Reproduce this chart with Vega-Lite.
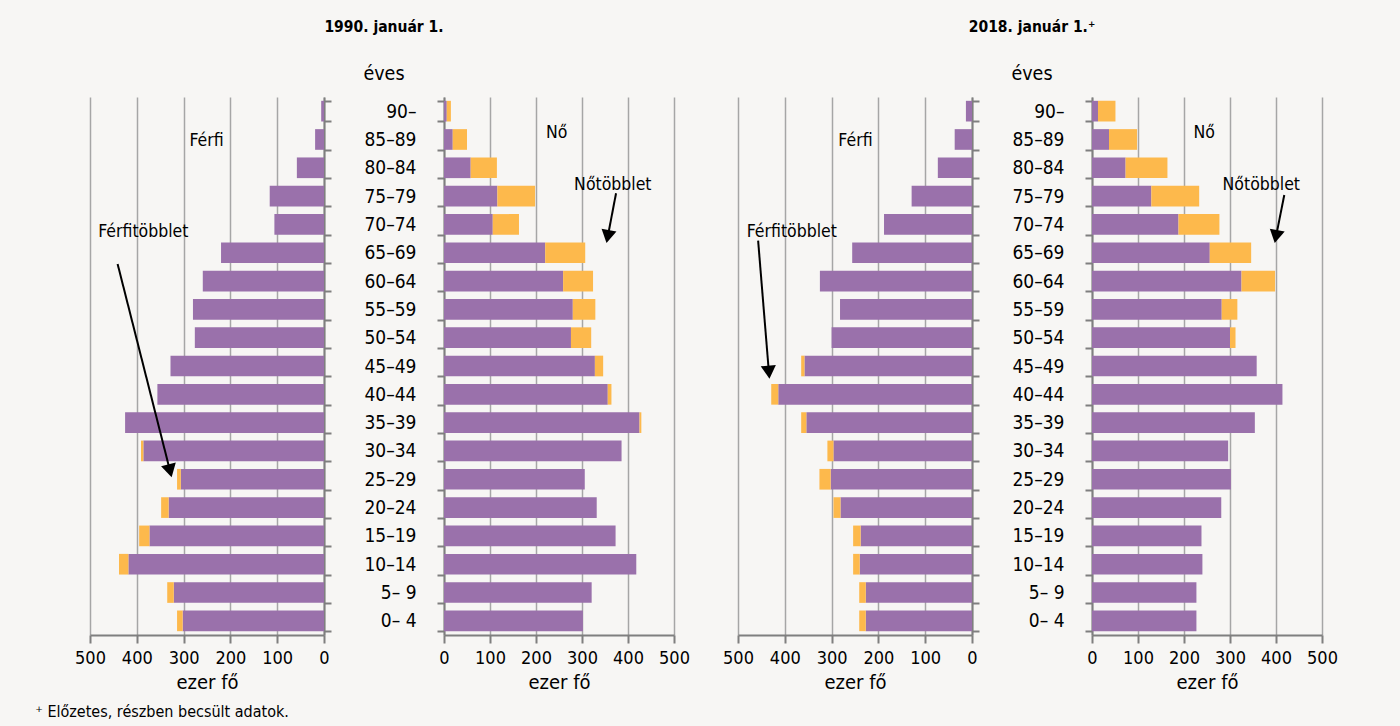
{
  "$schema": "https://vega.github.io/schema/vega-lite/v6.json",
  "background": "#f7f6f4",
  "padding": {"left": 35, "top": 19, "right": 65, "bottom": 6},
  "config": {
    "view": {"stroke": null},
    "font": "Liberation Sans Narrow, Arial Narrow, DejaVu Sans Condensed, sans-serif",
    "axis": {"domainColor": "#7f7f7f", "domainWidth": 2, "tickColor": "#7f7f7f", "tickWidth": 2, "labelColor": "#000000", "titleColor": "#000000", "labelFontSize": 18, "titleFontSize": 20, "titleFontWeight": "normal"},
    "axisX": {"grid": true, "gridColor": "#a6a6a6", "gridWidth": 1.5, "tickSize": 8, "labelPadding": 6, "labelFlush": false, "labelOverlap": false, "titlePadding": 5},
    "axisY": {"grid": false, "tickBand": "extent", "tickSize": 7, "labelPadding": 21, "labelFontSize": 19}
  },
  "datasets": {
    "pop": [
      {"ev": "1990", "nem": "Férfi", "kor": "90–  ", "kozos": 6, "osszes": 6},
      {"ev": "1990", "nem": "Férfi", "kor": "85–89", "kozos": 19, "osszes": 19},
      {"ev": "1990", "nem": "Férfi", "kor": "80–84", "kozos": 58, "osszes": 58},
      {"ev": "1990", "nem": "Férfi", "kor": "75–79", "kozos": 116, "osszes": 116},
      {"ev": "1990", "nem": "Férfi", "kor": "70–74", "kozos": 106, "osszes": 106},
      {"ev": "1990", "nem": "Férfi", "kor": "65–69", "kozos": 220, "osszes": 220},
      {"ev": "1990", "nem": "Férfi", "kor": "60–64", "kozos": 259, "osszes": 259},
      {"ev": "1990", "nem": "Férfi", "kor": "55–59", "kozos": 280, "osszes": 280},
      {"ev": "1990", "nem": "Férfi", "kor": "50–54", "kozos": 276, "osszes": 276},
      {"ev": "1990", "nem": "Férfi", "kor": "45–49", "kozos": 328, "osszes": 328},
      {"ev": "1990", "nem": "Férfi", "kor": "40–44", "kozos": 356, "osszes": 356},
      {"ev": "1990", "nem": "Férfi", "kor": "35–39", "kozos": 425, "osszes": 425},
      {"ev": "1990", "nem": "Férfi", "kor": "30–34", "kozos": 386, "osszes": 391},
      {"ev": "1990", "nem": "Férfi", "kor": "25–29", "kozos": 306, "osszes": 314},
      {"ev": "1990", "nem": "Férfi", "kor": "20–24", "kozos": 332, "osszes": 348},
      {"ev": "1990", "nem": "Férfi", "kor": "15–19", "kozos": 373, "osszes": 395},
      {"ev": "1990", "nem": "Férfi", "kor": "10–14", "kozos": 418, "osszes": 438},
      {"ev": "1990", "nem": "Férfi", "kor": "5– 9", "kozos": 321, "osszes": 335},
      {"ev": "1990", "nem": "Férfi", "kor": "0– 4", "kozos": 302, "osszes": 314},
      {"ev": "1990", "nem": "Nő", "kor": "90–  ", "kozos": 6, "osszes": 15},
      {"ev": "1990", "nem": "Nő", "kor": "85–89", "kozos": 19, "osszes": 50},
      {"ev": "1990", "nem": "Nő", "kor": "80–84", "kozos": 58, "osszes": 115},
      {"ev": "1990", "nem": "Nő", "kor": "75–79", "kozos": 116, "osszes": 198},
      {"ev": "1990", "nem": "Nő", "kor": "70–74", "kozos": 106, "osszes": 163},
      {"ev": "1990", "nem": "Nő", "kor": "65–69", "kozos": 220, "osszes": 307},
      {"ev": "1990", "nem": "Nő", "kor": "60–64", "kozos": 259, "osszes": 324},
      {"ev": "1990", "nem": "Nő", "kor": "55–59", "kozos": 280, "osszes": 329},
      {"ev": "1990", "nem": "Nő", "kor": "50–54", "kozos": 276, "osszes": 320},
      {"ev": "1990", "nem": "Nő", "kor": "45–49", "kozos": 328, "osszes": 346},
      {"ev": "1990", "nem": "Nő", "kor": "40–44", "kozos": 356, "osszes": 364},
      {"ev": "1990", "nem": "Nő", "kor": "35–39", "kozos": 425, "osszes": 429},
      {"ev": "1990", "nem": "Nő", "kor": "30–34", "kozos": 386, "osszes": 386},
      {"ev": "1990", "nem": "Nő", "kor": "25–29", "kozos": 306, "osszes": 306},
      {"ev": "1990", "nem": "Nő", "kor": "20–24", "kozos": 332, "osszes": 332},
      {"ev": "1990", "nem": "Nő", "kor": "15–19", "kozos": 373, "osszes": 373},
      {"ev": "1990", "nem": "Nő", "kor": "10–14", "kozos": 418, "osszes": 418},
      {"ev": "1990", "nem": "Nő", "kor": "5– 9", "kozos": 321, "osszes": 321},
      {"ev": "1990", "nem": "Nő", "kor": "0– 4", "kozos": 302, "osszes": 302},
      {"ev": "2018", "nem": "Férfi", "kor": "90–  ", "kozos": 13, "osszes": 13},
      {"ev": "2018", "nem": "Férfi", "kor": "85–89", "kozos": 37, "osszes": 37},
      {"ev": "2018", "nem": "Férfi", "kor": "80–84", "kozos": 73, "osszes": 73},
      {"ev": "2018", "nem": "Férfi", "kor": "75–79", "kozos": 129, "osszes": 129},
      {"ev": "2018", "nem": "Férfi", "kor": "70–74", "kozos": 188, "osszes": 188},
      {"ev": "2018", "nem": "Férfi", "kor": "65–69", "kozos": 256, "osszes": 256},
      {"ev": "2018", "nem": "Férfi", "kor": "60–64", "kozos": 325, "osszes": 325},
      {"ev": "2018", "nem": "Férfi", "kor": "55–59", "kozos": 282, "osszes": 282},
      {"ev": "2018", "nem": "Férfi", "kor": "50–54", "kozos": 300, "osszes": 300},
      {"ev": "2018", "nem": "Férfi", "kor": "45–49", "kozos": 358, "osszes": 365},
      {"ev": "2018", "nem": "Férfi", "kor": "40–44", "kozos": 414, "osszes": 429},
      {"ev": "2018", "nem": "Férfi", "kor": "35–39", "kozos": 354, "osszes": 365},
      {"ev": "2018", "nem": "Férfi", "kor": "30–34", "kozos": 296, "osszes": 309},
      {"ev": "2018", "nem": "Férfi", "kor": "25–29", "kozos": 302, "osszes": 326},
      {"ev": "2018", "nem": "Férfi", "kor": "20–24", "kozos": 281, "osszes": 296},
      {"ev": "2018", "nem": "Férfi", "kor": "15–19", "kozos": 238, "osszes": 254},
      {"ev": "2018", "nem": "Férfi", "kor": "10–14", "kozos": 240, "osszes": 254},
      {"ev": "2018", "nem": "Férfi", "kor": "5– 9", "kozos": 227, "osszes": 241},
      {"ev": "2018", "nem": "Férfi", "kor": "0– 4", "kozos": 227, "osszes": 241},
      {"ev": "2018", "nem": "Nő", "kor": "90–  ", "kozos": 13, "osszes": 51},
      {"ev": "2018", "nem": "Nő", "kor": "85–89", "kozos": 37, "osszes": 98},
      {"ev": "2018", "nem": "Nő", "kor": "80–84", "kozos": 73, "osszes": 164},
      {"ev": "2018", "nem": "Nő", "kor": "75–79", "kozos": 129, "osszes": 233},
      {"ev": "2018", "nem": "Nő", "kor": "70–74", "kozos": 188, "osszes": 277},
      {"ev": "2018", "nem": "Nő", "kor": "65–69", "kozos": 256, "osszes": 346},
      {"ev": "2018", "nem": "Nő", "kor": "60–64", "kozos": 325, "osszes": 398},
      {"ev": "2018", "nem": "Nő", "kor": "55–59", "kozos": 282, "osszes": 316},
      {"ev": "2018", "nem": "Nő", "kor": "50–54", "kozos": 300, "osszes": 312},
      {"ev": "2018", "nem": "Nő", "kor": "45–49", "kozos": 358, "osszes": 358},
      {"ev": "2018", "nem": "Nő", "kor": "40–44", "kozos": 414, "osszes": 414},
      {"ev": "2018", "nem": "Nő", "kor": "35–39", "kozos": 354, "osszes": 354},
      {"ev": "2018", "nem": "Nő", "kor": "30–34", "kozos": 296, "osszes": 296},
      {"ev": "2018", "nem": "Nő", "kor": "25–29", "kozos": 302, "osszes": 302},
      {"ev": "2018", "nem": "Nő", "kor": "20–24", "kozos": 281, "osszes": 281},
      {"ev": "2018", "nem": "Nő", "kor": "15–19", "kozos": 238, "osszes": 238},
      {"ev": "2018", "nem": "Nő", "kor": "10–14", "kozos": 240, "osszes": 240},
      {"ev": "2018", "nem": "Nő", "kor": "5– 9", "kozos": 227, "osszes": 227},
      {"ev": "2018", "nem": "Nő", "kor": "0– 4", "kozos": 227, "osszes": 227}
    ],
    "ann": [
      {"panel": "m1", "tipus": "szoveg", "x": 251, "sor": 1.73, "szoveg": "Férfi"},
      {"panel": "m1", "tipus": "szoveg", "x": 386, "sor": 4.95, "szoveg": "Férfitöbblet"},
      {"panel": "m1", "tipus": "nyil", "x": 441, "sor": 5.9, "x2": 329, "sor2": 13.2, "szog": 346},
      {"panel": "m1", "tipus": "labjegyzet", "x": 617, "sor": 21.9, "szoveg": "⁺ Előzetes, részben becsült adatok."},
      {"panel": "f1", "tipus": "szoveg", "x": 245, "sor": 1.45, "szoveg": "Nő"},
      {"panel": "f1", "tipus": "szoveg", "x": 367, "sor": 3.29, "szoveg": "Nőtöbblet"},
      {"panel": "f1", "tipus": "nyil", "x": 374, "sor": 3.4, "x2": 356, "sor2": 4.93, "szog": 11},
      {"panel": "m2", "tipus": "szoveg", "x": 249, "sor": 1.73, "szoveg": "Férfi"},
      {"panel": "m2", "tipus": "szoveg", "x": 385, "sor": 4.95, "szoveg": "Férfitöbblet"},
      {"panel": "m2", "tipus": "nyil", "x": 457, "sor": 5.07, "x2": 434, "sor2": 9.72, "szog": 355},
      {"panel": "f2", "tipus": "szoveg", "x": 244, "sor": 1.45, "szoveg": "Nő"},
      {"panel": "f2", "tipus": "szoveg", "x": 368, "sor": 3.29, "szoveg": "Nőtöbblet"},
      {"panel": "f2", "tipus": "nyil", "x": 418, "sor": 3.46, "x2": 400, "sor2": 4.93, "szog": 11},
      {"panel": "t1", "tipus": "cim", "sor": -2.3, "szoveg": "1990. január 1."},
      {"panel": "t1", "tipus": "eves", "sor": -0.6, "szoveg": "éves"},
      {"panel": "t2", "tipus": "cim", "sor": -2.3, "szoveg": "2018. január 1.⁺"},
      {"panel": "t2", "tipus": "eves", "sor": -0.6, "szoveg": "éves"}
    ]
  },
  "spacing": 30,
  "bounds": "flush",
  "hconcat": [
    {
      "width": 234, "height": 538,
      "layer": [
        {
          "data": {"name": "pop"},
          "transform": [{"filter": "datum.ev === '1990' && datum.nem === 'Férfi'"}],
          "mark": {"type": "bar", "color": "#9a71ab"},
          "encoding": {
            "y": {"field": "kor", "type": "nominal", "sort": ["90–  ", "85–89", "80–84", "75–79", "70–74", "65–69", "60–64", "55–59", "50–54", "45–49", "40–44", "35–39", "30–34", "25–29", "20–24", "15–19", "10–14", "5– 9", "0– 4"], "scale": {"paddingInner": 0.27, "paddingOuter": 0.135}, "axis": {"orient": "right", "labels": false, "title": null}},
            "x": {"field": "kozos", "type": "quantitative", "scale": {"domain": [0, 500], "reverse": true, "nice": false}, "axis": {"values": [0, 100, 200, 300, 400, 500], "title": "ezer fő"}}
          }
        },
        {
          "data": {"name": "pop"},
          "transform": [{"filter": "datum.ev === '1990' && datum.nem === 'Férfi'"}],
          "mark": {"type": "bar", "color": "#fdb94c"},
          "encoding": {
            "y": {"field": "kor", "type": "nominal", "sort": ["90–  ", "85–89", "80–84", "75–79", "70–74", "65–69", "60–64", "55–59", "50–54", "45–49", "40–44", "35–39", "30–34", "25–29", "20–24", "15–19", "10–14", "5– 9", "0– 4"], "scale": {"paddingInner": 0.27, "paddingOuter": 0.135}, "axis": null},
            "x": {"field": "kozos", "type": "quantitative", "scale": {"domain": [0, 500], "reverse": true, "nice": false}},
            "x2": {"field": "osszes"}
          }
        },
        {
          "data": {"name": "ann"},
          "transform": [{"filter": "datum.panel === 'm1' && datum.tipus === 'szoveg'"}],
          "mark": {"type": "text", "fontSize": 17.5, "baseline": "alphabetic", "align": "center", "color": "#000000"},
          "encoding": {
            "x": {"field": "x", "type": "quantitative", "scale": {"domain": [0, 500], "reverse": true, "nice": false}},
            "y": {"field": "sor", "type": "quantitative", "scale": {"domain": [0, 19], "reverse": true, "nice": false, "zero": false}, "axis": null},
            "text": {"field": "szoveg"}
          }
        },
        {
          "data": {"name": "ann"},
          "transform": [{"filter": "datum.panel === 'm1' && datum.tipus === 'labjegyzet'"}],
          "mark": {"type": "text", "fontSize": 16, "baseline": "alphabetic", "align": "left", "color": "#000000"},
          "encoding": {
            "x": {"field": "x", "type": "quantitative", "scale": {"domain": [0, 500], "reverse": true, "nice": false}},
            "y": {"field": "sor", "type": "quantitative", "scale": {"domain": [0, 19], "reverse": true, "nice": false, "zero": false}, "axis": null},
            "text": {"field": "szoveg"}
          }
        },
        {
          "data": {"name": "ann"},
          "transform": [{"filter": "datum.panel === 'm1' && datum.tipus === 'nyil'"}],
          "mark": {"type": "rule", "strokeWidth": 2, "color": "#000000"},
          "encoding": {
            "x": {"field": "x", "type": "quantitative", "scale": {"domain": [0, 500], "reverse": true, "nice": false}},
            "x2": {"field": "x2"},
            "y": {"field": "sor", "type": "quantitative", "scale": {"domain": [0, 19], "reverse": true, "nice": false, "zero": false}, "axis": null},
            "y2": {"field": "sor2"}
          }
        },
        {
          "data": {"name": "ann"},
          "transform": [{"filter": "datum.panel === 'm1' && datum.tipus === 'nyil'"}],
          "mark": {"type": "point", "shape": "triangle-down", "filled": true, "color": "#000000", "opacity": 1, "size": 230},
          "encoding": {
            "x": {"field": "x2", "type": "quantitative", "scale": {"domain": [0, 500], "reverse": true, "nice": false}},
            "y": {"field": "sor2", "type": "quantitative", "scale": {"domain": [0, 19], "reverse": true, "nice": false, "zero": false}, "axis": null},
            "angle": {"field": "szog", "type": "quantitative", "scale": null}
          }
        }
      ],
      "resolve": {"scale": {"y": "independent"}}
    },
    {
      "width": 60, "height": 538,
      "data": {"name": "ann"},
      "layer": [
        {
          "transform": [{"filter": "datum.panel === 't1' && datum.tipus === 'cim'"}],
          "mark": {"type": "text", "fontSize": 15.5, "fontWeight": "bold", "baseline": "alphabetic", "align": "center", "color": "#000000"},
          "encoding": {
            "y": {"field": "sor", "type": "quantitative", "scale": {"domain": [0, 19], "reverse": true, "nice": false, "zero": false}, "axis": null},
            "text": {"field": "szoveg"}
          }
        },
        {
          "transform": [{"filter": "datum.panel === 't1' && datum.tipus === 'eves'"}],
          "mark": {"type": "text", "fontSize": 19.5, "baseline": "alphabetic", "align": "center", "color": "#000000"},
          "encoding": {
            "y": {"field": "sor", "type": "quantitative", "scale": {"domain": [0, 19], "reverse": true, "nice": false, "zero": false}, "axis": null},
            "text": {"field": "szoveg"}
          }
        }
      ]
    },
    {
      "width": 230, "height": 538,
      "layer": [
        {
          "data": {"name": "pop"},
          "transform": [{"filter": "datum.ev === '1990' && datum.nem === 'Nő'"}],
          "mark": {"type": "bar", "color": "#9a71ab"},
          "encoding": {
            "y": {"field": "kor", "type": "nominal", "sort": ["90–  ", "85–89", "80–84", "75–79", "70–74", "65–69", "60–64", "55–59", "50–54", "45–49", "40–44", "35–39", "30–34", "25–29", "20–24", "15–19", "10–14", "5– 9", "0– 4"], "scale": {"paddingInner": 0.27, "paddingOuter": 0.135}, "axis": {"orient": "left", "title": null}},
            "x": {"field": "kozos", "type": "quantitative", "scale": {"domain": [0, 500], "nice": false}, "axis": {"values": [0, 100, 200, 300, 400, 500], "title": "ezer fő"}}
          }
        },
        {
          "data": {"name": "pop"},
          "transform": [{"filter": "datum.ev === '1990' && datum.nem === 'Nő'"}],
          "mark": {"type": "bar", "color": "#fdb94c"},
          "encoding": {
            "y": {"field": "kor", "type": "nominal", "sort": ["90–  ", "85–89", "80–84", "75–79", "70–74", "65–69", "60–64", "55–59", "50–54", "45–49", "40–44", "35–39", "30–34", "25–29", "20–24", "15–19", "10–14", "5– 9", "0– 4"], "scale": {"paddingInner": 0.27, "paddingOuter": 0.135}, "axis": null},
            "x": {"field": "kozos", "type": "quantitative", "scale": {"domain": [0, 500], "nice": false}},
            "x2": {"field": "osszes"}
          }
        },
        {
          "data": {"name": "ann"},
          "transform": [{"filter": "datum.panel === 'f1' && datum.tipus === 'szoveg'"}],
          "mark": {"type": "text", "fontSize": 17.5, "baseline": "alphabetic", "align": "center", "color": "#000000"},
          "encoding": {
            "x": {"field": "x", "type": "quantitative", "scale": {"domain": [0, 500], "nice": false}},
            "y": {"field": "sor", "type": "quantitative", "scale": {"domain": [0, 19], "reverse": true, "nice": false, "zero": false}, "axis": null},
            "text": {"field": "szoveg"}
          }
        },
        {
          "data": {"name": "ann"},
          "transform": [{"filter": "datum.panel === 'f1' && datum.tipus === 'nyil'"}],
          "mark": {"type": "rule", "strokeWidth": 2, "color": "#000000"},
          "encoding": {
            "x": {"field": "x", "type": "quantitative", "scale": {"domain": [0, 500], "nice": false}},
            "x2": {"field": "x2"},
            "y": {"field": "sor", "type": "quantitative", "scale": {"domain": [0, 19], "reverse": true, "nice": false, "zero": false}, "axis": null},
            "y2": {"field": "sor2"}
          }
        },
        {
          "data": {"name": "ann"},
          "transform": [{"filter": "datum.panel === 'f1' && datum.tipus === 'nyil'"}],
          "mark": {"type": "point", "shape": "triangle-down", "filled": true, "color": "#000000", "opacity": 1, "size": 230},
          "encoding": {
            "x": {"field": "x2", "type": "quantitative", "scale": {"domain": [0, 500], "nice": false}},
            "y": {"field": "sor2", "type": "quantitative", "scale": {"domain": [0, 19], "reverse": true, "nice": false, "zero": false}, "axis": null},
            "angle": {"field": "szog", "type": "quantitative", "scale": null}
          }
        }
      ],
      "resolve": {"scale": {"y": "independent"}}
    },
    {
      "width": 4, "height": 538,
      "data": {"values": [{"ures": ""}]},
      "mark": {"type": "text", "text": ""},
      "encoding": {}
    },
    {
      "width": 234, "height": 538,
      "layer": [
        {
          "data": {"name": "pop"},
          "transform": [{"filter": "datum.ev === '2018' && datum.nem === 'Férfi'"}],
          "mark": {"type": "bar", "color": "#9a71ab"},
          "encoding": {
            "y": {"field": "kor", "type": "nominal", "sort": ["90–  ", "85–89", "80–84", "75–79", "70–74", "65–69", "60–64", "55–59", "50–54", "45–49", "40–44", "35–39", "30–34", "25–29", "20–24", "15–19", "10–14", "5– 9", "0– 4"], "scale": {"paddingInner": 0.27, "paddingOuter": 0.135}, "axis": {"orient": "right", "labels": false, "title": null}},
            "x": {"field": "kozos", "type": "quantitative", "scale": {"domain": [0, 500], "reverse": true, "nice": false}, "axis": {"values": [0, 100, 200, 300, 400, 500], "title": "ezer fő"}}
          }
        },
        {
          "data": {"name": "pop"},
          "transform": [{"filter": "datum.ev === '2018' && datum.nem === 'Férfi'"}],
          "mark": {"type": "bar", "color": "#fdb94c"},
          "encoding": {
            "y": {"field": "kor", "type": "nominal", "sort": ["90–  ", "85–89", "80–84", "75–79", "70–74", "65–69", "60–64", "55–59", "50–54", "45–49", "40–44", "35–39", "30–34", "25–29", "20–24", "15–19", "10–14", "5– 9", "0– 4"], "scale": {"paddingInner": 0.27, "paddingOuter": 0.135}, "axis": null},
            "x": {"field": "kozos", "type": "quantitative", "scale": {"domain": [0, 500], "reverse": true, "nice": false}},
            "x2": {"field": "osszes"}
          }
        },
        {
          "data": {"name": "ann"},
          "transform": [{"filter": "datum.panel === 'm2' && datum.tipus === 'szoveg'"}],
          "mark": {"type": "text", "fontSize": 17.5, "baseline": "alphabetic", "align": "center", "color": "#000000"},
          "encoding": {
            "x": {"field": "x", "type": "quantitative", "scale": {"domain": [0, 500], "reverse": true, "nice": false}},
            "y": {"field": "sor", "type": "quantitative", "scale": {"domain": [0, 19], "reverse": true, "nice": false, "zero": false}, "axis": null},
            "text": {"field": "szoveg"}
          }
        },
        {
          "data": {"name": "ann"},
          "transform": [{"filter": "datum.panel === 'm2' && datum.tipus === 'nyil'"}],
          "mark": {"type": "rule", "strokeWidth": 2, "color": "#000000"},
          "encoding": {
            "x": {"field": "x", "type": "quantitative", "scale": {"domain": [0, 500], "reverse": true, "nice": false}},
            "x2": {"field": "x2"},
            "y": {"field": "sor", "type": "quantitative", "scale": {"domain": [0, 19], "reverse": true, "nice": false, "zero": false}, "axis": null},
            "y2": {"field": "sor2"}
          }
        },
        {
          "data": {"name": "ann"},
          "transform": [{"filter": "datum.panel === 'm2' && datum.tipus === 'nyil'"}],
          "mark": {"type": "point", "shape": "triangle-down", "filled": true, "color": "#000000", "opacity": 1, "size": 230},
          "encoding": {
            "x": {"field": "x2", "type": "quantitative", "scale": {"domain": [0, 500], "reverse": true, "nice": false}},
            "y": {"field": "sor2", "type": "quantitative", "scale": {"domain": [0, 19], "reverse": true, "nice": false, "zero": false}, "axis": null},
            "angle": {"field": "szog", "type": "quantitative", "scale": null}
          }
        }
      ],
      "resolve": {"scale": {"y": "independent"}}
    },
    {
      "width": 60, "height": 538,
      "data": {"name": "ann"},
      "layer": [
        {
          "transform": [{"filter": "datum.panel === 't2' && datum.tipus === 'cim'"}],
          "mark": {"type": "text", "fontSize": 15.5, "fontWeight": "bold", "baseline": "alphabetic", "align": "center", "color": "#000000"},
          "encoding": {
            "y": {"field": "sor", "type": "quantitative", "scale": {"domain": [0, 19], "reverse": true, "nice": false, "zero": false}, "axis": null},
            "text": {"field": "szoveg"}
          }
        },
        {
          "transform": [{"filter": "datum.panel === 't2' && datum.tipus === 'eves'"}],
          "mark": {"type": "text", "fontSize": 19.5, "baseline": "alphabetic", "align": "center", "color": "#000000"},
          "encoding": {
            "y": {"field": "sor", "type": "quantitative", "scale": {"domain": [0, 19], "reverse": true, "nice": false, "zero": false}, "axis": null},
            "text": {"field": "szoveg"}
          }
        }
      ]
    },
    {
      "width": 230, "height": 538,
      "layer": [
        {
          "data": {"name": "pop"},
          "transform": [{"filter": "datum.ev === '2018' && datum.nem === 'Nő'"}],
          "mark": {"type": "bar", "color": "#9a71ab"},
          "encoding": {
            "y": {"field": "kor", "type": "nominal", "sort": ["90–  ", "85–89", "80–84", "75–79", "70–74", "65–69", "60–64", "55–59", "50–54", "45–49", "40–44", "35–39", "30–34", "25–29", "20–24", "15–19", "10–14", "5– 9", "0– 4"], "scale": {"paddingInner": 0.27, "paddingOuter": 0.135}, "axis": {"orient": "left", "title": null}},
            "x": {"field": "kozos", "type": "quantitative", "scale": {"domain": [0, 500], "nice": false}, "axis": {"values": [0, 100, 200, 300, 400, 500], "title": "ezer fő"}}
          }
        },
        {
          "data": {"name": "pop"},
          "transform": [{"filter": "datum.ev === '2018' && datum.nem === 'Nő'"}],
          "mark": {"type": "bar", "color": "#fdb94c"},
          "encoding": {
            "y": {"field": "kor", "type": "nominal", "sort": ["90–  ", "85–89", "80–84", "75–79", "70–74", "65–69", "60–64", "55–59", "50–54", "45–49", "40–44", "35–39", "30–34", "25–29", "20–24", "15–19", "10–14", "5– 9", "0– 4"], "scale": {"paddingInner": 0.27, "paddingOuter": 0.135}, "axis": null},
            "x": {"field": "kozos", "type": "quantitative", "scale": {"domain": [0, 500], "nice": false}},
            "x2": {"field": "osszes"}
          }
        },
        {
          "data": {"name": "ann"},
          "transform": [{"filter": "datum.panel === 'f2' && datum.tipus === 'szoveg'"}],
          "mark": {"type": "text", "fontSize": 17.5, "baseline": "alphabetic", "align": "center", "color": "#000000"},
          "encoding": {
            "x": {"field": "x", "type": "quantitative", "scale": {"domain": [0, 500], "nice": false}},
            "y": {"field": "sor", "type": "quantitative", "scale": {"domain": [0, 19], "reverse": true, "nice": false, "zero": false}, "axis": null},
            "text": {"field": "szoveg"}
          }
        },
        {
          "data": {"name": "ann"},
          "transform": [{"filter": "datum.panel === 'f2' && datum.tipus === 'nyil'"}],
          "mark": {"type": "rule", "strokeWidth": 2, "color": "#000000"},
          "encoding": {
            "x": {"field": "x", "type": "quantitative", "scale": {"domain": [0, 500], "nice": false}},
            "x2": {"field": "x2"},
            "y": {"field": "sor", "type": "quantitative", "scale": {"domain": [0, 19], "reverse": true, "nice": false, "zero": false}, "axis": null},
            "y2": {"field": "sor2"}
          }
        },
        {
          "data": {"name": "ann"},
          "transform": [{"filter": "datum.panel === 'f2' && datum.tipus === 'nyil'"}],
          "mark": {"type": "point", "shape": "triangle-down", "filled": true, "color": "#000000", "opacity": 1, "size": 230},
          "encoding": {
            "x": {"field": "x2", "type": "quantitative", "scale": {"domain": [0, 500], "nice": false}},
            "y": {"field": "sor2", "type": "quantitative", "scale": {"domain": [0, 19], "reverse": true, "nice": false, "zero": false}, "axis": null},
            "angle": {"field": "szog", "type": "quantitative", "scale": null}
          }
        }
      ],
      "resolve": {"scale": {"y": "independent"}}
    }
  ]
}
